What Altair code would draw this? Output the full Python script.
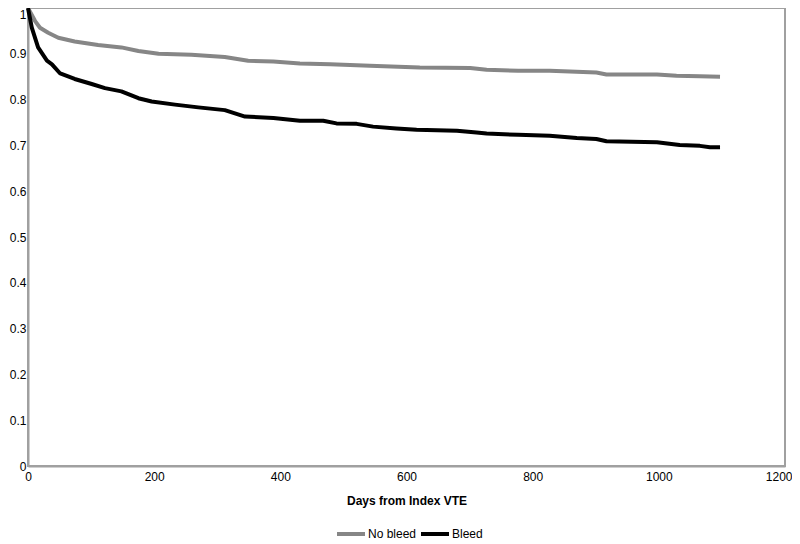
import altair as alt
import pandas as pd

no_bleed_days = [0, 11, 19, 32, 48, 74, 111, 148, 175, 207, 259, 312, 349, 389, 431, 479, 542,
                 621, 701, 727, 777, 827, 901, 917, 997, 1028, 1065, 1097]
no_bleed_vals = [1.0, 0.972, 0.957, 0.946, 0.935, 0.927, 0.919, 0.914, 0.906, 0.900, 0.898, 0.893,
                 0.885, 0.883, 0.879, 0.877, 0.874, 0.870, 0.869, 0.865, 0.863, 0.863, 0.859, 0.855,
                 0.855, 0.852, 0.851, 0.850]

bleed_days = [0, 6, 16, 30, 38, 51, 74, 101, 122, 148, 175, 196, 233, 270, 312, 344, 389, 431,
              468, 489, 521, 547, 584, 616, 680, 711, 727, 777, 827, 870, 901, 917, 997, 1033,
              1065, 1081, 1097]
bleed_vals = [1.0, 0.957, 0.914, 0.885, 0.877, 0.857, 0.845, 0.834, 0.825, 0.818, 0.803, 0.796,
              0.789, 0.783, 0.777, 0.763, 0.760, 0.754, 0.754, 0.748, 0.747, 0.741, 0.737, 0.734,
              0.732, 0.728, 0.726, 0.723, 0.721, 0.716, 0.714, 0.709, 0.707, 0.701, 0.699, 0.696,
              0.696]

series_names = ["No bleed", "Bleed"]
series_colors = ["#868686", "#000000"]
x_ticks = [0, 200, 400, 600, 800, 1000, 1200]
y_ticks = [0, 0.1, 0.2, 0.3, 0.4, 0.5, 0.6, 0.7, 0.8, 0.9, 1.0]

rows = []
for i, (d, v) in enumerate(zip(no_bleed_days, no_bleed_vals)):
    rows.append({"series": "No bleed", "day": d, "value": v, "order": i})
for i, (d, v) in enumerate(zip(bleed_days, bleed_vals)):
    rows.append({"series": "Bleed", "day": d, "value": v, "order": i})
df = pd.DataFrame(rows)

font = "Liberation Sans"

chart = alt.Chart(df).mark_line(strokeWidth=4, strokeJoin="round").encode(
    x=alt.X("day:Q", scale=alt.Scale(domain=[0, 1200], nice=False),
            axis=alt.Axis(values=x_ticks, format="d", title="Days from Index VTE",
                          grid=False, ticks=False, domainColor="#a0a0a0", domainWidth=2,
                          labelFont=font, labelFontSize=12, labelColor="#000000", labelPadding=5,
                          labelAlign={"condition": {"test": "datum.value == 1200", "value": "right"},
                                      "value": "center"},
                          labelOffset={"condition": {"test": "datum.value == 1200", "value": 7},
                                       "value": 0},
                          titleFont=font, titleFontSize=12, titleFontWeight="bold",
                          titleColor="#000000", titlePadding=13, labelFlush=False)),
    y=alt.Y("value:Q", scale=alt.Scale(domain=[0, 1], nice=False),
            axis=alt.Axis(values=y_ticks, format="~g",
                          title=None, grid=False, ticks=False, domainColor="#a0a0a0",
                          domainWidth=2, labelFont=font, labelFontSize=12,
                          labelColor="#000000", labelPadding=2, labelFlush=False,
                          labelOffset={"condition": {"test": "datum.value == 1", "value": 6},
                                       "value": 0})),
    color=alt.Color("series:N", scale=alt.Scale(domain=series_names, range=series_colors),
                    sort=series_names,
                    legend=alt.Legend(title=None, orient="none", direction="horizontal",
                                      legendX=307, legendY=510, symbolType="stroke",
                                      symbolStrokeWidth=4, symbolSize=784,
                                      labelFont=font, labelFontSize=12, labelColor="#000000",
                                      labelOffset=1, columnPadding=-4, padding=0)),
    order="order:Q",
).properties(
    width=757, height=458,
    padding={"left": 20, "top": 0, "right": 7, "bottom": 78},
    autosize=alt.AutoSizeParams(type="none"),
).configure_view(stroke="#a0a0a0", strokeWidth=2)

chart.save("out.html", embed_options={"renderer": "svg", "actions": False})
